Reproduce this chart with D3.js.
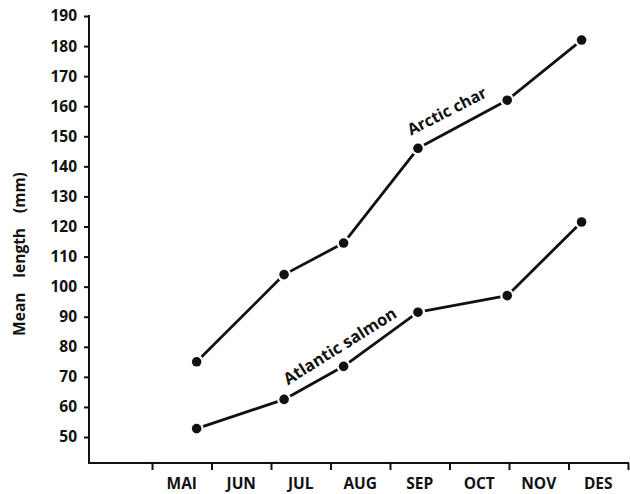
<!DOCTYPE html>
<html>
<head>
<meta charset="utf-8">
<script src="https://cdn.jsdelivr.net/npm/d3@7"></script>
<style>
  body { margin: 0; background: #fff; }
  svg { display: block; font-family: "Open Sans", sans-serif; font-weight: 700; }
</style>
</head>
<body>
<div id="chart"></div>
<script>
// month labels along the x axis (one per interval)
const months = ["MAI", "JUN", "JUL", "AUG", "SEP", "OCT", "NOV", "DES"];
const yTicks = d3.range(50, 191, 10);

// sampling times, in months after 1 May
const sampleTime = [0.75, 2.22, 3.22, 4.47, 5.97, 7.22];
const charLength = [75, 104, 114.5, 146, 162, 182];
const salmonLength = [52.8, 62.5, 73.5, 91.5, 97, 121.5];

const width = 630, height = 494;
const ink = "#111";

const svg = d3.select("#chart").append("svg")
  .attr("width", width)
  .attr("height", height);

const x = d3.scaleLinear().domain([0, months.length]).range([152, 628]);
const y = d3.scaleLinear().domain([50, 190]).range([437, 16]);
const axisX = 89, axisY = 463;

// y axis
const yAxis = svg.append("g")
  .attr("transform", `translate(${axisX},0)`)
  .call(d3.axisLeft(y).tickValues(yTicks).tickSize(5).tickPadding(7));
yAxis.select(".domain").remove();
yAxis.selectAll("line").attr("stroke", ink).attr("stroke-width", 2);
yAxis.selectAll("text")
  .attr("fill", ink)
  .style("font-size", "15.5px")
  .style("font-family", "'Open Sans', sans-serif")
  .style("font-weight", 700);
svg.append("line")
  .attr("x1", axisX).attr("x2", axisX)
  .attr("y1", y(190) - 1).attr("y2", axisY)
  .attr("stroke", ink).attr("stroke-width", 2);

// x axis: ticks at month boundaries, labels between them
svg.append("line")
  .attr("x1", axisX - 1).attr("x2", x(months.length) + 1)
  .attr("y1", axisY).attr("y2", axisY)
  .attr("stroke", ink).attr("stroke-width", 2);
const xAxis = svg.append("g")
  .attr("transform", `translate(0,${axisY})`)
  .call(d3.axisBottom(x).tickValues(d3.range(0, months.length + 1)).tickSize(7).tickFormat(""));
xAxis.select(".domain").remove();
xAxis.selectAll("line").attr("stroke", ink).attr("stroke-width", 2);

svg.append("g").selectAll("text")
  .data(months)
  .join("text")
  .attr("x", (d, i) => x(i + 0.5))
  .attr("y", 489)
  .attr("text-anchor", "middle")
  .attr("fill", ink)
  .style("font-size", "15.5px")
  .text(d => d);

// y axis title
svg.append("text")
  .attr("transform", `translate(25,254) rotate(-90)`)
  .attr("text-anchor", "middle")
  .attr("fill", ink)
  .style("font-size", "15.5px")
  .style("word-spacing", "0.7em")
  .text("Mean length (mm)");

// series
function drawSeries(values) {
  const pts = values.map((v, i) => [x(sampleTime[i]), y(v)]);
  const g = svg.append("g");
  g.append("path")
    .attr("d", d3.line()(pts))
    .attr("fill", "none")
    .attr("stroke", ink)
    .attr("stroke-width", 2.8)
    .attr("stroke-linejoin", "round");
  // white halo leaves the small gap between line and dot
  g.selectAll("circle.halo")
    .data(pts)
    .join("circle")
    .attr("class", "halo")
    .attr("cx", d => d[0])
    .attr("cy", d => d[1])
    .attr("r", 7)
    .attr("fill", "#fff");
  g.selectAll("circle.dot")
    .data(pts)
    .join("circle")
    .attr("class", "dot")
    .attr("cx", d => d[0])
    .attr("cy", d => d[1])
    .attr("r", 4.8)
    .attr("fill", ink);
}
drawSeries(charLength);
drawSeries(salmonLength);

// series labels along the lines
function seriesLabel(t, v, angle, size, label) {
  svg.append("text")
    .attr("transform", `translate(${x(t)},${y(v)}) rotate(${angle})`)
    .attr("text-anchor", "middle")
    .attr("fill", ink)
    .style("font-size", size + "px")
    .text(label);
}
seriesLabel(5.0, 156.7, -27, 16, "Arctic char");
seriesLabel(3.21, 78.6, -32, 16.5, "Atlantic salmon");
</script>
</body>
</html>
